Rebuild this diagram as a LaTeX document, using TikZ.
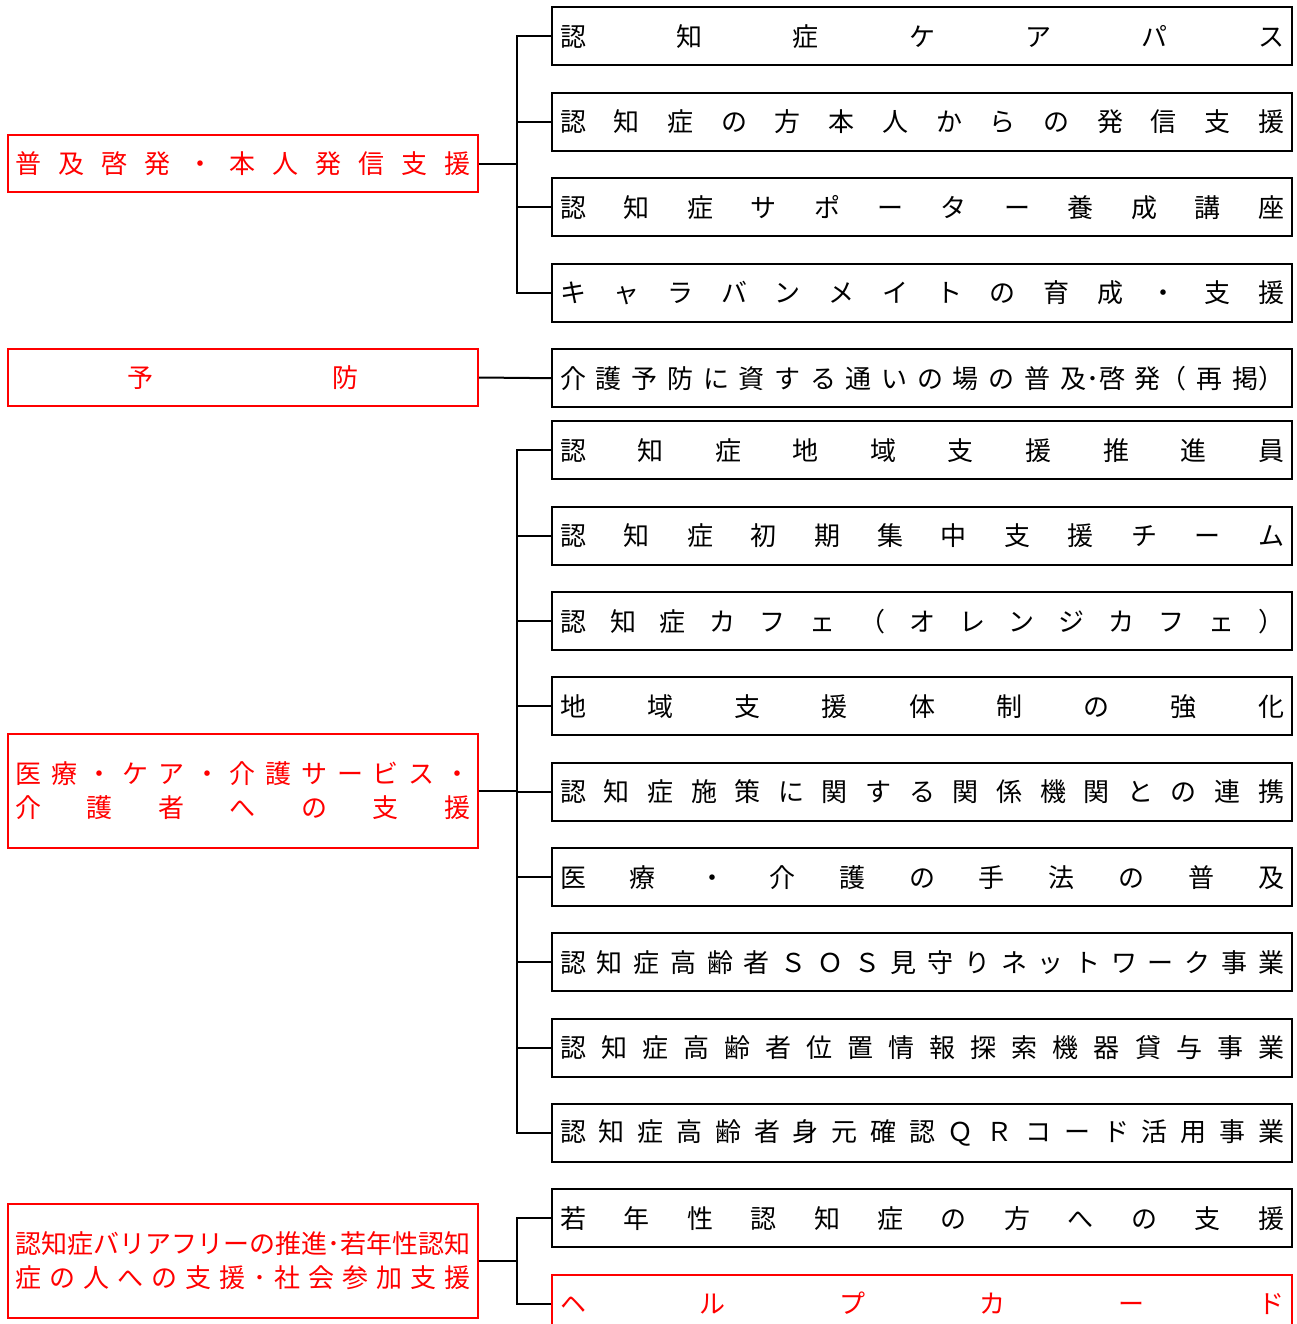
\documentclass[tikz,border=0pt]{standalone}
\usepackage{fontspec}
\setmainfont{Noto Sans CJK JP}
\tikzset{
  item/.style={draw, line width=1.2pt, minimum width=370pt, minimum height=29pt, inner sep=0pt, anchor=north west},
  head/.style={draw=red, text=red, line width=1pt, minimum width=235pt, inner sep=0pt, anchor=north west},
  link/.style={line width=1pt}
}
\begin{document}
\begin{tikzpicture}[x=0.5pt, y=-0.5pt, font=\fontsize{13pt}{17pt}\selectfont]
  \useasboundingbox (0,0) rectangle (1297,1324);
  % Right: measures, text spread over the box
  \foreach \n/\py/\txt in {i1/6/認 知 症 ケ ア パ ス,
      i2/91.5/認 知 症 の 方 本 人 か ら の 発 信 支 援,
      i3/177/認 知 症 サ ポ ー タ ー 養 成 講 座,
      i4/262.5/キ ャ ラ バ ン メ イ ト の 育 成 ・ 支 援,
      i5/348/介 護 予 防 に 資 す る 通 い の 場 の 普 及･啓 発（ 再 掲）,
      i6/420/認 知 症 地 域 支 援 推 進 員,
      i7/505.5/認 知 症 初 期 集 中 支 援 チ ー ム,
      i8/591/認 知 症 カ フ ェ （ オ レ ン ジ カ フ ェ ）,
      i9/676/地 域 支 援 体 制 の 強 化,
      i10/761.5/認 知 症 施 策 に 関 す る 関 係 機 関 と の 連 携,
      i11/847/医 療 ・ 介 護 の 手 法 の 普 及,
      i12/932/認 知 症 高 齢 者 Ｓ Ｏ Ｓ 見 守 り ネ ッ ト ワ ー ク 事 業,
      i13/1017.5/認 知 症 高 齢 者 位 置 情 報 探 索 機 器 貸 与 事 業,
      i14/1103/認 知 症 高 齢 者 身 元 確 認 Ｑ Ｒ コ ー ド 活 用 事 業,
      i15/1188/若 年 性 認 知 症 の 方 へ の 支 援}
    \node[item] (\n) at (551,\py) {\makebox[362pt][s]{\txt}};
  \node[item, draw=red, text=red] (i16) at (551,1273.5) {\makebox[362pt][s]{ヘ ル プ カ ー ド}};
  % Left: headings
  \node[head, minimum height=28.5pt] (h1) at (7,134) {\makebox[227.5pt][s]{普 及 啓 発 ・ 本 人 発 信 支 援}};
  \node[head, minimum height=28.5pt] (h2) at (7,348) {\makebox[115.5pt][s]{予 防}};
  \node[head, minimum height=57pt, align=center] (h3) at (7,733)
    {\makebox[227.5pt][s]{医 療 ・ ケ ア ・ 介 護 サ ー ビ ス ・}\\\makebox[227.5pt][s]{介 護 者 へ の 支 援}};
  \node[head, minimum height=57pt, align=center] (h4) at (7,1203)
    {\makebox[227.5pt][s]{認知症バリアフリーの推進･若年性認知}\\\makebox[227.5pt][s]{症 の 人 へ の 支 援 ･ 社 会 参 加 支 援}};
  % Connectors
  \draw[link] (h1.east) -- ++(38,0) coordinate (t1);
  \foreach \n in {i1,i2,i3,i4}
    \draw[link] (t1) |- (\n.west);
  \draw[link] (h2.east) -- (i5.west);
  \draw[link] (h3.east) -- ++(38,0) coordinate (t3);
  \foreach \n in {i6,i7,i8,i9,i10,i11,i12,i13,i14}
    \draw[link] (t3) |- (\n.west);
  \draw[link] (h4.east) -- ++(38,0) coordinate (t4);
  \foreach \n in {i15,i16}
    \draw[link] (t4) |- (\n.west);
\end{tikzpicture}
\end{document}
